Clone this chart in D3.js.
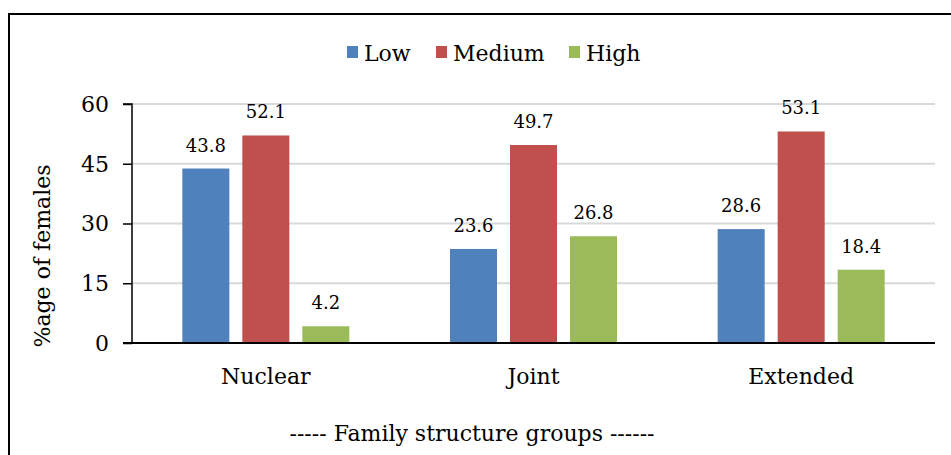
<!DOCTYPE html>
<html><head><meta charset="utf-8">
<script src="https://cdn.jsdelivr.net/npm/d3@7"></script>
<style>body{margin:0;background:#fff}svg{display:block}</style>
</head><body><svg id="c" width="951" height="455"></svg>
<script>
const categories = ["Nuclear", "Joint", "Extended"];
const seriesNames = ["Low", "Medium", "High"];
const lowValues = [43.8, 23.6, 28.6];
const mediumValues = [52.1, 49.7, 53.1];
const highValues = [4.2, 26.8, 18.4];
const yTicks = [0, 15, 30, 45, 60];
const colors = ["#4F81BD", "#C0504D", "#9BBB59"];
const seriesValues = [lowValues, mediumValues, highValues];

(function () {
const FONT = "'DejaVu Serif'";
const svg = d3.select("#c").style("font-family", FONT);
svg.append("rect").attr("x", 9).attr("y", 14).attr("width", 960).attr("height", 460)
  .attr("fill", "none").attr("stroke", "#000").attr("stroke-width", 2);

const pLeft = 132, pRight = 935, pTop = 104, pBottom = 343;
const x0 = d3.scaleBand().domain(categories).range([pLeft, pRight]).padding(0);
const groupW = x0.bandwidth() * 0.624;
const x1 = d3.scaleBand().domain(seriesNames).range([-groupW / 2, groupW / 2]).paddingInner(13 / 60).paddingOuter(0);
const y = d3.scaleLinear().domain([0, 60]).range([pBottom, pTop]);

svg.append("g").selectAll("line").data(yTicks.filter(d => d > 0)).join("line")
  .attr("x1", pLeft).attr("x2", pRight).attr("y1", d => y(d)).attr("y2", d => y(d))
  .attr("stroke", "#d9d9d9").attr("stroke-width", 2);

const yAxis = svg.append("g").attr("transform", `translate(${pLeft},0)`)
  .call(d3.axisLeft(y).tickValues(yTicks).tickSize(9).tickPadding(14).tickFormat(d3.format("d")));
yAxis.attr("font-family", null).attr("font-size", null);
yAxis.select(".domain").attr("stroke", "#000").attr("stroke-width", 1.5).attr("d", `M-9,${pTop}H0V${pBottom}`);
yAxis.selectAll(".tick line").attr("stroke", "#000").attr("stroke-width", 1.5);
yAxis.selectAll("text").style("font-family", FONT).attr("font-size", 22).attr("dy", "0.34em").attr("fill", "#000");

const data = [];
categories.forEach((c, i) => seriesNames.forEach((s, j) => data.push({ c, s, j, v: seriesValues[j][i] })));
const cx = d => x0(d.c) + x0.bandwidth() / 2 + x1(d.s);
svg.append("g").selectAll("rect").data(data).join("rect")
  .attr("x", cx).attr("width", x1.bandwidth())
  .attr("y", d => y(d.v)).attr("height", d => y(0) - y(d.v))
  .attr("fill", d => colors[d.j]);

svg.append("g").selectAll("text").data(data).join("text")
  .attr("x", d => cx(d) + x1.bandwidth() / 2).attr("y", d => y(d.v) - 17)
  .attr("text-anchor", "middle").attr("font-size", 18).text(d => d.v.toFixed(1));

svg.append("line").attr("x1", pLeft - 9).attr("x2", pRight).attr("y1", pBottom).attr("y2", pBottom)
  .attr("stroke", "#000").attr("stroke-width", 2);

svg.append("g").selectAll("text").data(categories).join("text")
  .attr("x", d => x0(d) + x0.bandwidth() / 2).attr("y", 384)
  .attr("text-anchor", "middle").attr("font-size", 22).text(d => d);

svg.append("text").attr("x", 472).attr("y", 441).attr("text-anchor", "middle").attr("font-size", 22)
  .text("----- Family structure groups ------");
svg.append("text").attr("transform", "translate(50,256) rotate(-90)").attr("text-anchor", "middle")
  .attr("font-size", 22).text("%age of females");

const legX = [347, 436, 569];
const leg = svg.append("g").selectAll("g").data(seriesNames).join("g")
  .attr("transform", (d, i) => `translate(${legX[i]},46)`);
leg.append("rect").attr("width", 11).attr("height", 12).attr("fill", (d, i) => colors[i]);
leg.append("text").attr("x", 17).attr("y", 7).attr("dy", "0.35em").attr("font-size", 22).text(d => d);
})();
</script></body></html>
